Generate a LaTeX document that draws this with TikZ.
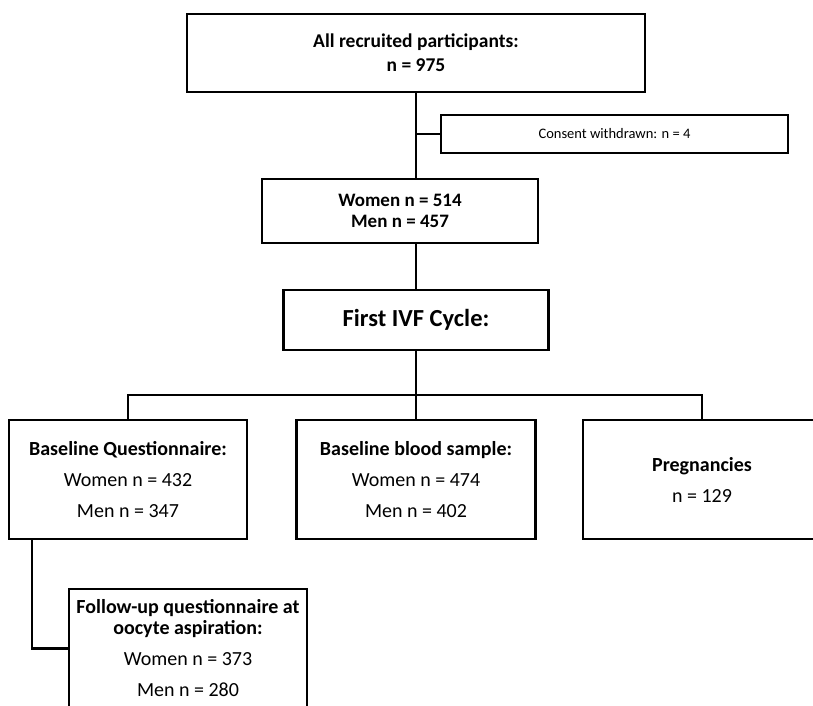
\documentclass[tikz,border=0pt]{standalone}
\usepackage{fontspec}
\setmainfont{Carlito}
\begin{document}
\begin{tikzpicture}[x=1pt,y=-1pt,
  box/.style={draw=black,line width=2.6pt,fill=white,inner sep=0pt,align=center},
  conn/.style={draw=black,line width=2.2pt},
  bigfont/.style={font=\fontsize{19.5}{24}\selectfont\bfseries},
  midfont/.style={font=\fontsize{19}{21}\selectfont\bfseries},
  ivffont/.style={font=\fontsize{24.5}{28}\selectfont\bfseries},
  smallfont/.style={font=\fontsize{14.5}{17}\selectfont},
  rowfont/.style={font=\fontsize{20}{31}\selectfont}
]
\useasboundingbox (0,0) rectangle (813,705);
\clip (0,0) rectangle (813,705);
\fill[white] (0,0) rectangle (813,705);

\node[box,bigfont,minimum width=458pt,minimum height=78pt] (all) at (416,53)
  {All recruited participants:\\ n = 975};
\node[box,smallfont,minimum width=347pt,minimum height=38pt] (cons) at (614.5,134)
  {Consent withdrawn: n = 4};
\node[box,midfont,minimum width=276pt,minimum height=64pt] (wm) at (400,211)
  {Women n = 514\\ Men n = 457};
\node[box,ivffont,minimum width=265pt,minimum height=60pt] (ivf) at (416,320)
  {First IVF Cycle:};

\node[box,rowfont,minimum width=238pt,minimum height=119pt] (bq) at (128,479.5)
  {\textbf{Baseline Questionnaire:}\\ Women n = 432\\ Men n = 347};
\node[box,rowfont,minimum width=239pt,minimum height=119pt] (bb) at (416,479.5)
  {\textbf{Baseline blood sample:}\\ Women n = 474\\ Men n = 402};
\node[box,rowfont,minimum width=238pt,minimum height=119pt] (pr) at (702,479.5)
  {\textbf{Pregnancies}\\ n = 129};
\node[box,font=\fontsize{20}{21}\selectfont,minimum width=238pt,minimum height=119pt] (fu) at (188,648.5)
  {\textbf{Follow-up questionnaire at}\\ \textbf{oocyte aspiration:}\\[10pt] Women n = 373\\[10pt] Men n = 280};

\coordinate (bus) at (416,395);
\coordinate (cj) at (all.south |- cons.west);

\draw[conn] (all.south) -- (all.south |- wm.north);
\draw[conn] (cj) -- (cons.west);
\draw[conn] (all.south |- wm.south) -- (all.south |- ivf.north);
\draw[conn] (ivf.south) -- (bb.north);
\draw[conn] (bq.north) |- (bus) -| (pr.north);
\draw[conn] ([xshift=24pt]bq.south west) |- (fu.west);
\end{tikzpicture}
\end{document}
